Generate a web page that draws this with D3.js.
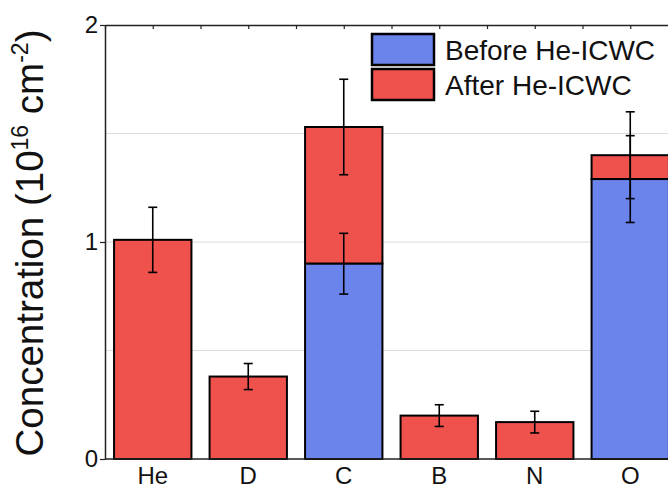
<!DOCTYPE html>
<html>
<head>
<meta charset="utf-8">
<script src="https://cdn.jsdelivr.net/npm/d3@7"></script>
<style>
  html, body { margin: 0; padding: 0; background: #fff; overflow: hidden; }
  svg text { font-family: "Liberation Sans", Arial, sans-serif; }
</style>
</head>
<body>
<script>
"use strict";

const width = 668;
const height = 488;

// data
const categories = ["He", "D", "C", "B", "N", "O"];
const beforeValues = [0, 0, 0.90, 0, 0, 1.29];
const beforeErrors = [0, 0, 0.14, 0, 0, 0.20];
const afterTotals = [1.01, 0.38, 1.53, 0.20, 0.17, 1.40];
const afterErrors = [0.15, 0.06, 0.22, 0.05, 0.05, 0.20];
const yTicks = [0, 1, 2];
const gridValues = [0.5, 1, 1.5];

const plotLeft = 105, plotTop = 25, plotBottom = 459;
const step = 95.5;
const plotRight = plotLeft + step * categories.length;

let svg = d3.select("body").append("svg")
    .attr("width", width)
    .attr("height", height)
    .style("display", "block");

let x = d3.scaleBand()
    .domain(categories)
    .range([plotLeft, plotRight])
    .paddingInner(0.19)
    .paddingOuter(0.095);

let y = d3.scaleLinear()
    .domain([0, 2])
    .range([plotBottom, plotTop]);

// grid
svg.append("g").selectAll("line")
    .data(gridValues)
    .enter()
    .append("line")
    .attr("x1", plotLeft).attr("x2", plotRight)
    .attr("y1", d => y(d)).attr("y2", d => y(d))
    .style("stroke", "#dcdcdc")
    .style("stroke-width", 1);

let rows = categories.map((c, i) => ({
    cat: c,
    before: beforeValues[i],
    beforeErr: beforeErrors[i],
    total: afterTotals[i],
    totalErr: afterErrors[i]
}));

// after segment (stacked on top of before)
svg.append("g").selectAll("rect")
    .data(rows)
    .enter()
    .append("rect")
    .attr("x", d => x(d.cat))
    .attr("width", x.bandwidth())
    .attr("y", d => y(d.total))
    .attr("height", d => y(d.before) - y(d.total))
    .style("fill", "#ef524d")
    .style("stroke", "#000")
    .style("stroke-width", 2);

// before segment
svg.append("g").selectAll("rect")
    .data(rows.filter(d => d.before > 0))
    .enter()
    .append("rect")
    .attr("x", d => x(d.cat))
    .attr("width", x.bandwidth())
    .attr("y", d => y(d.before))
    .attr("height", d => y(0) - y(d.before))
    .style("fill", "#6b84ec")
    .style("stroke", "#000")
    .style("stroke-width", 2);

// error bars
let errs = [];
rows.forEach(d => {
    errs.push({ cat: d.cat, v: d.total, e: d.totalErr });
    if (d.before > 0) errs.push({ cat: d.cat, v: d.before, e: d.beforeErr });
});

let eb = svg.append("g").selectAll("g")
    .data(errs)
    .enter()
    .append("g")
    .style("stroke", "#000")
    .style("stroke-width", 1.6);

const cap = 4.5;
eb.append("line")
    .attr("x1", d => x(d.cat) + x.bandwidth() / 2)
    .attr("x2", d => x(d.cat) + x.bandwidth() / 2)
    .attr("y1", d => y(d.v + d.e))
    .attr("y2", d => y(d.v - d.e));
eb.append("line")
    .attr("x1", d => x(d.cat) + x.bandwidth() / 2 - cap)
    .attr("x2", d => x(d.cat) + x.bandwidth() / 2 + cap)
    .attr("y1", d => y(d.v + d.e))
    .attr("y2", d => y(d.v + d.e));
eb.append("line")
    .attr("x1", d => x(d.cat) + x.bandwidth() / 2 - cap)
    .attr("x2", d => x(d.cat) + x.bandwidth() / 2 + cap)
    .attr("y1", d => y(d.v - d.e))
    .attr("y2", d => y(d.v - d.e));

// frame
svg.append("line")
    .attr("x1", plotLeft).attr("x2", plotRight)
    .attr("y1", plotBottom).attr("y2", plotBottom)
    .style("stroke", "#222").style("stroke-width", 1.5);

// top axis with small inward ticks at every half category
let xTop = d3.scaleLinear().domain([0, categories.length]).range([plotLeft, plotRight]);
let topAxis = svg.append("g")
    .attr("transform", `translate(0,${plotTop})`)
    .call(d3.axisTop(xTop)
        .tickValues(d3.range(0, categories.length + 0.5, 0.5))
        .tickSizeInner(-4)
        .tickSizeOuter(0)
        .tickFormat(""));
topAxis.select(".domain").style("stroke", "#222").style("stroke-width", 1.5);
topAxis.selectAll(".tick line").style("stroke", "#222").style("stroke-width", 1.2);

// left axis
let leftAxis = svg.append("g")
    .attr("transform", `translate(${plotLeft},0)`)
    .call(d3.axisLeft(y)
        .tickValues(yTicks)
        .tickFormat(d3.format("d"))
        .tickSizeInner(5)
        .tickSizeOuter(0)
        .tickPadding(2));
leftAxis.select(".domain").style("stroke", "#222").style("stroke-width", 1.5);
leftAxis.selectAll(".tick line").style("stroke", "#222").style("stroke-width", 1.2);
leftAxis.selectAll(".tick text")
    .style("font-size", "24px")
    .style("fill", "#111")
    .style("font-family", "'Liberation Sans', Arial, sans-serif");

// category labels
svg.append("g").selectAll("text")
    .data(categories)
    .enter()
    .append("text")
    .attr("x", d => x(d) + x.bandwidth() / 2)
    .attr("y", 484)
    .attr("text-anchor", "middle")
    .style("font-size", "24px")
    .style("fill", "#111")
    .text(d => d);

// y title
let title = svg.append("text")
    .attr("transform", "translate(43,243) rotate(-90)")
    .attr("text-anchor", "middle")
    .style("font-size", "38.5px")
    .style("fill", "#111");
title.append("tspan").text("Concentration (10");
title.append("tspan").attr("dy", -15).style("font-size", "23px").text("16");
title.append("tspan").attr("dy", 15).text(" cm");
title.append("tspan").attr("dy", -15).style("font-size", "23px").text("-2");
title.append("tspan").attr("dy", 15).text(")");

// legend
const legendItems = ["Before He-ICWC", "After He-ICWC"];
const legendColors = ["#6b84ec", "#ef524d"];
let legend = svg.append("g").selectAll("g")
    .data(legendItems)
    .enter()
    .append("g")
    .attr("transform", (d, i) => `translate(372,${34 + i * 35})`);
legend.append("rect")
    .attr("width", 62)
    .attr("height", 31)
    .style("fill", (d, i) => legendColors[i])
    .style("stroke", "#000")
    .style("stroke-width", 2.5);
legend.append("text")
    .attr("x", 73)
    .attr("y", 26)
    .style("font-size", "28px")
    .style("fill", "#111")
    .text(d => d);
</script>
</body>
</html>
